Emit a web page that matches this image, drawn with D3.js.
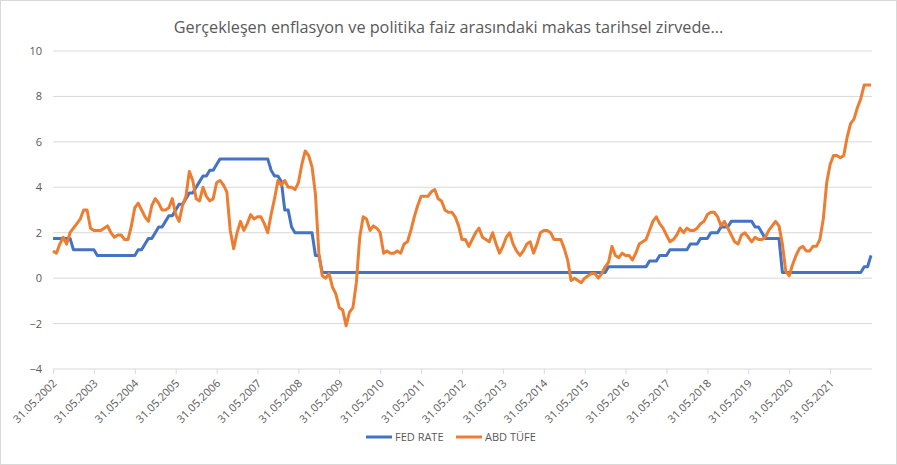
<!DOCTYPE html>
<html>
<head>
<meta charset="utf-8">
<script src="https://cdn.jsdelivr.net/npm/d3@7"></script>
<style>
  body { margin: 0; background: #fff; }
  text { font-family: "Open Sans", "Liberation Sans", sans-serif; fill: #595959; }
</style>
</head>
<body>
<div id="chart"></div>
<script>
// Başlık ve seri adları
const title = "Gerçekleşen enflasyon ve politika faiz arasındaki makas tarihsel zirvede...";
const seriesNames = ["FED RATE", "ABD TÜFE"];

// Aylık veri: 31.05.2002 - 31.05.2022
const fedRate = [
  1.75, 1.75, 1.75, 1.75, 1.75, 1.75, 1.25, 1.25,
  1.25, 1.25, 1.25, 1.25, 1.25, 1.0, 1.0, 1.0, 1.0, 1.0, 1.0, 1.0,
  1.0, 1.0, 1.0, 1.0, 1.0, 1.25, 1.25, 1.5, 1.75, 1.75, 2.0, 2.25,
  2.25, 2.5, 2.75, 2.75, 3.0, 3.25, 3.25, 3.5, 3.75, 3.75, 4.0, 4.25,
  4.5, 4.5, 4.75, 4.75, 5.0, 5.25, 5.25, 5.25, 5.25, 5.25, 5.25, 5.25,
  5.25, 5.25, 5.25, 5.25, 5.25, 5.25, 5.25, 5.25, 4.75, 4.5, 4.5, 4.25,
  3.0, 3.0, 2.25, 2.0, 2.0, 2.0, 2.0, 2.0, 2.0, 1.0, 1.0, 0.25,
  0.25, 0.25, 0.25, 0.25, 0.25, 0.25, 0.25, 0.25, 0.25, 0.25, 0.25, 0.25,
  0.25, 0.25, 0.25, 0.25, 0.25, 0.25, 0.25, 0.25, 0.25, 0.25, 0.25, 0.25,
  0.25, 0.25, 0.25, 0.25, 0.25, 0.25, 0.25, 0.25, 0.25, 0.25, 0.25, 0.25,
  0.25, 0.25, 0.25, 0.25, 0.25, 0.25, 0.25, 0.25, 0.25, 0.25, 0.25, 0.25,
  0.25, 0.25, 0.25, 0.25, 0.25, 0.25, 0.25, 0.25, 0.25, 0.25, 0.25, 0.25,
  0.25, 0.25, 0.25, 0.25, 0.25, 0.25, 0.25, 0.25, 0.25, 0.25, 0.25, 0.25,
  0.25, 0.25, 0.25, 0.25, 0.25, 0.25, 0.25, 0.25, 0.25, 0.25, 0.25, 0.5,
  0.5, 0.5, 0.5, 0.5, 0.5, 0.5, 0.5, 0.5, 0.5, 0.5, 0.5, 0.75,
  0.75, 0.75, 1.0, 1.0, 1.0, 1.25, 1.25, 1.25, 1.25, 1.25, 1.25, 1.5,
  1.5, 1.5, 1.75, 1.75, 1.75, 2.0, 2.0, 2.0, 2.25, 2.25, 2.25, 2.5,
  2.5, 2.5, 2.5, 2.5, 2.5, 2.5, 2.25, 2.25, 2.0, 1.75, 1.75, 1.75,
  1.75, 1.75, 0.25, 0.25, 0.25, 0.25, 0.25, 0.25, 0.25, 0.25, 0.25, 0.25,
  0.25, 0.25, 0.25, 0.25, 0.25, 0.25, 0.25, 0.25, 0.25, 0.25, 0.25, 0.25,
  0.25, 0.25, 0.5, 0.5, 1.0
];

const cpi = [
  1.2, 1.1, 1.5, 1.8, 1.5, 2.0, 2.2, 2.4,
  2.6, 3.0, 3.0, 2.2, 2.1, 2.1, 2.1, 2.2, 2.3, 2.0, 1.8, 1.9,
  1.9, 1.7, 1.7, 2.3, 3.1, 3.3, 3.0, 2.7, 2.5, 3.2, 3.5, 3.3,
  3.0, 3.0, 3.1, 3.5, 2.8, 2.5, 3.2, 3.6, 4.7, 4.3, 3.5, 3.4,
  4.0, 3.6, 3.4, 3.5, 4.2, 4.3, 4.1, 3.8, 2.1, 1.3, 2.0, 2.5,
  2.1, 2.4, 2.8, 2.6, 2.7, 2.7, 2.4, 2.0, 2.8, 3.5, 4.3, 4.1,
  4.3, 4.0, 4.0, 3.9, 4.2, 5.0, 5.6, 5.4, 4.9, 3.7, 1.1, 0.1,
  0.0, 0.2, -0.4, -0.7, -1.3, -1.4, -2.1, -1.5, -1.3, -0.2, 1.8, 2.7,
  2.6, 2.1, 2.3, 2.2, 2.0, 1.1, 1.2, 1.1, 1.1, 1.2, 1.1, 1.5,
  1.6, 2.1, 2.7, 3.2, 3.6, 3.6, 3.6, 3.8, 3.9, 3.5, 3.4, 3.0,
  2.9, 2.9, 2.7, 2.3, 1.7, 1.7, 1.4, 1.7, 2.0, 2.2, 1.8, 1.7,
  1.6, 2.0, 1.5, 1.1, 1.4, 1.8, 2.0, 1.5, 1.2, 1.0, 1.2, 1.5,
  1.6, 1.1, 1.5, 2.0, 2.1, 2.1, 2.0, 1.7, 1.7, 1.7, 1.3, 0.8,
  -0.1, 0.0, -0.1, -0.2, 0.0, 0.1, 0.2, 0.2, 0.0, 0.2, 0.5, 0.7,
  1.4, 1.0, 0.9, 1.1, 1.0, 1.0, 0.8, 1.1, 1.5, 1.6, 1.7, 2.1,
  2.5, 2.7, 2.4, 2.2, 1.9, 1.6, 1.7, 1.9, 2.2, 2.0, 2.2, 2.1,
  2.1, 2.2, 2.4, 2.5, 2.8, 2.9, 2.9, 2.7, 2.3, 2.5, 2.2, 1.9,
  1.6, 1.5, 1.9, 2.0, 1.8, 1.6, 1.8, 1.7, 1.7, 1.8, 2.1, 2.3,
  2.5, 2.3, 1.5, 0.3, 0.1, 0.6, 1.0, 1.3, 1.4, 1.2, 1.2, 1.4,
  1.4, 1.7, 2.6, 4.2, 5.0, 5.4, 5.4, 5.3, 5.4, 6.2, 6.8, 7.0,
  7.5, 7.9, 8.5, 8.5, 8.5
];

// Her 12 ayda bir eksen etiketi
const tickLabels = [
  "31.05.2002", "31.05.2003", "31.05.2004", "31.05.2005", "31.05.2006",
  "31.05.2007", "31.05.2008", "31.05.2009", "31.05.2010", "31.05.2011",
  "31.05.2012", "31.05.2013", "31.05.2014", "31.05.2015", "31.05.2016",
  "31.05.2017", "31.05.2018", "31.05.2019", "31.05.2020", "31.05.2021"
];
const yTicks = [-4, -2, 0, 2, 4, 6, 8, 10];

const width = 897;
const height = 465;
const colors = ["#4472C4", "#ED7D31"];

const svg = d3.select("#chart").append("svg")
  .attr("width", width)
  .attr("height", height);

// Dış çerçeve
svg.append("rect")
  .attr("x", 0.5).attr("y", 0.5)
  .attr("width", width - 1).attr("height", height - 1)
  .attr("fill", "#fff")
  .attr("stroke", "#d9d9d9");

const x = d3.scaleLinear().domain([0, cpi.length - 1]).range([53, 871]);
const y = d3.scaleLinear().domain([-4, 10]).range([369, 51]);

// Yatay kılavuz çizgileri
svg.append("g")
  .selectAll("line")
  .data(yTicks)
  .enter()
  .append("line")
  .attr("x1", 53).attr("x2", 872)
  .attr("y1", d => y(d)).attr("y2", d => y(d))
  .attr("stroke", "#d9d9d9")
  .attr("stroke-width", 1);

// Y ekseni etiketleri
const yAxis = svg.append("g")
  .attr("transform", "translate(53,0)")
  .call(d3.axisLeft(y).tickValues(yTicks).tickSize(0).tickPadding(11));
yAxis.select(".domain").remove();
yAxis.selectAll("text")
  .style("font-size", "11px")
  .style("font-family", "\"Open Sans\", sans-serif")
  .attr("fill", "#595959");

// X ekseni tik çizgileri ve etiketleri
const tickIdx = tickLabels.map((d, i) => i * 12);
const xAxis = svg.append("g")
  .attr("transform", `translate(0,${y(-4)})`)
  .call(d3.axisBottom(x).tickValues(tickIdx).tickSize(5).tickFormat((d, i) => tickLabels[i]));
xAxis.select(".domain").remove();
xAxis.selectAll(".tick line").attr("stroke", "#d9d9d9");
xAxis.selectAll("text")
  .style("font-size", "11px")
  .style("font-family", "\"Open Sans\", sans-serif")
  .attr("fill", "#595959")
  .attr("text-anchor", "end")
  .attr("dy", null)
  .attr("y", 0)
  .attr("transform", "translate(4,15) rotate(-45)");

// Çizgiler
const line = d3.line()
  .x((d, i) => x(i))
  .y(d => y(d));

[fedRate, cpi].forEach((s, k) => {
  svg.append("path")
    .datum(s)
    .attr("d", line)
    .attr("fill", "none")
    .attr("stroke", colors[k])
    .attr("stroke-width", 3)
    .attr("stroke-linejoin", "round");
});

// Başlık
const t = svg.append("text")
  .attr("x", width / 2)
  .attr("y", 33)
  .attr("text-anchor", "middle")
  .style("font-size", "16px")
  .text(title);
const tw = t.node().getComputedTextLength();
t.style("font-size", (16 * 550 / tw) + "px");

// Lejant
const legendX = [366, 456];
const lg = svg.append("g")
  .selectAll("g")
  .data(seriesNames)
  .enter()
  .append("g")
  .attr("transform", (d, i) => `translate(${legendX[i]},437)`);
lg.append("line")
  .attr("x1", 0).attr("x2", 26)
  .attr("stroke", (d, i) => colors[i])
  .attr("stroke-width", 3);
lg.append("text")
  .attr("x", 29)
  .attr("dy", "0.35em")
  .style("font-size", "11px")
  .text(d => d);
</script>
</body>
</html>
